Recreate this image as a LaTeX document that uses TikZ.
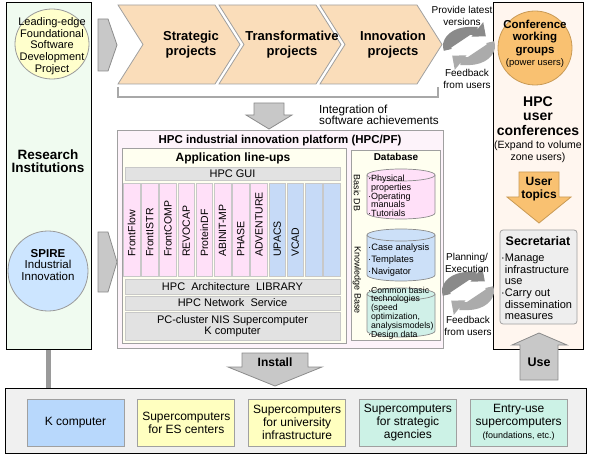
\documentclass[tikz,border=0pt]{standalone}
\usepackage{fontspec}
\setmainfont{Liberation Sans}
\usetikzlibrary{arrows.meta,positioning}

\definecolor{leftgreen}{HTML}{F0FBF0}
\definecolor{leadyellow}{HTML}{FFFFCC}
\definecolor{circline}{HTML}{9A9A9A}
\definecolor{spireblue}{HTML}{CCE5FF}
\definecolor{arrowgrey}{HTML}{C8C8C8}
\definecolor{arrowline}{HTML}{8C8C8C}
\definecolor{chevfill}{HTML}{FADDBA}
\definecolor{chevline}{HTML}{A0A0A0}
\definecolor{bracketgrey}{HTML}{A8A8A8}
\definecolor{platpink}{HTML}{FDF3FA}
\definecolor{platline}{HTML}{A0A0A0}
\definecolor{appyellow}{HTML}{FFFFF0}
\definecolor{bargrey}{HTML}{E2E2E2}
\definecolor{barline}{HTML}{C8C8C8}
\definecolor{apppink}{HTML}{FFE0F8}
\definecolor{appblue}{HTML}{C6DAF7}
\definecolor{cylpink}{HTML}{FFE0F8}
\definecolor{cylblue}{HTML}{CCE0F8}
\definecolor{cylmint}{HTML}{D0F0E8}
\definecolor{confpeach}{HTML}{FFF6EF}
\definecolor{conforange}{HTML}{F9C171}
\definecolor{confline}{HTML}{C99A55}
\definecolor{secgrey}{HTML}{EEEEEE}
\definecolor{botgrey}{HTML}{F0F0F0}
\definecolor{kblue}{HTML}{B8D8FC}
\definecolor{esyellow}{HTML}{FFFFC0}
\definecolor{stratmint}{HTML}{CCF2E6}
\definecolor{cycdark}{HTML}{8A8A8A}
\definecolor{cyclight}{HTML}{ABABAB}
\definecolor{polegrey}{HTML}{9A9A9A}

\newcommand{\dbul}{\textperiodcentered}

\begin{document}
\begin{tikzpicture}[x=1pt,y=-1pt,
    box/.style={draw=black, line width=1pt},
    greyarrow/.style={fill=arrowgrey, draw=arrowline, line width=0.8pt},
    chevron/.style={fill=chevfill, draw=chevline, line width=0.8pt},
    chevtext/.style={align=center, font=\bfseries\fontsize{13}{15}\selectfont},
    bar/.style={draw=barline, fill=bargrey, line width=0.6pt, minimum width=215pt, inner sep=0pt, align=center, font=\fontsize{11}{11.5}\selectfont},
    colbox/.style={draw=barline, line width=0.6pt},
    collabel/.style={rotate=90, anchor=west, inner sep=0pt, font=\fontsize{10.5}{11}\selectfont},
    cylline/.style={draw=arrowline, line width=0.7pt},
    sysbox/.style={draw=chevline, line width=0.8pt, minimum width=97pt, minimum height=47pt, inner sep=1pt, align=center, font=\fontsize{12}{13}\selectfont},
    cycarc/.style={line width=8pt, -{Triangle[length=11pt,width=18pt]}},
    cyclabel/.style={align=center, font=\fontsize{10}{11.5}\selectfont},
    small/.style={align=center, font=\fontsize{10.5}{12.5}\selectfont}]
\useasboundingbox (0,0) rectangle (589,457);

    \coordinate (TC) at (469,46);
    \coordinate (BC) at (468,291);

    % Research institutions column
    \draw[box, fill=leftgreen] (6,3) rectangle (91,349);
    \draw[draw=circline, fill=leadyellow, line width=0.8pt] (52,44) ellipse (37 and 35);
    \node[align=center, font=\fontsize{11}{11.6}\selectfont] (leading) at (52,46) {Leading-edge\\Foundational\\Software\\Development\\Project};
    \node[align=center, font=\bfseries\fontsize{13.5}{13}\selectfont] (research) at (48,161) {Research\\Institutions};
    \node[circle, draw=circline, fill=spireblue, line width=0.8pt, minimum size=80pt, inner sep=0pt] (spire) at (48,271) {};
    \node[align=center, font=\fontsize{11.5}{11.8}\selectfont] at (48,265) {\textbf{SPIRE}\\Industrial\\Innovation};
    \draw[draw=polegrey, line width=5pt] (48.5,350) -- (48.5,388);

    % Arrows out of the column
    \draw[greyarrow] (98,19) -- (108,19) -- (117,45) -- (108,71) -- (98,71) -- cycle;
    \draw[greyarrow] (98,232) -- (108,232) -- (117,262) -- (108,292) -- (98,292) -- cycle;

    % Projects
    \foreach \L/\txt [count=\i] in {118/{Strategic\\projects}, 219/{Transformative\\projects}, 320/{Innovation\\projects}} {
        \draw[chevron] (\L,5) -- ++(97,0) -- ++(25,39.5) -- ++(-25,39.5) -- ++(-97,0) -- ++(25,-39.5) -- cycle;
        \node[chevtext] (proj\i) at (\L+73,44.5) {\txt};
    }
    \draw[draw=bracketgrey, line width=2.5pt] (118,87) -- (118,97) -- (438,97) -- (438,87);

    % Integration
    \draw[greyarrow] (254,103) -- (284,103) -- (284,115) -- (292,115) -- (269,129) -- (246,115) -- (254,115) -- cycle;
    \node[anchor=west, align=left, inner sep=0pt, font=\fontsize{11.7}{11.5}\selectfont] (integ) at (319,115) {Integration of\\software achievements};

    % Platform
    \draw[draw=platline, fill=platpink, line width=0.8pt] (117,130) rectangle (443,348);
    \node[font=\bfseries\fontsize{11.5}{12}\selectfont] (pftitle) at (280,141) {HPC industrial innovation platform (HPC/PF)};

    % Application line-ups
    \draw[draw=platline, fill=appyellow, line width=0.8pt] (122,148) rectangle (346,343);
    \node[font=\bfseries\fontsize{12}{12}\selectfont] (apptitle) at (233,158) {Application line-ups};
    \node[bar, minimum height=13pt] (gui) at (232.5,173.5) {HPC GUI};
    \foreach \name/\col [count=\i from 0] in {FrontFlow/apppink, FrontISTR/apppink, FrontCOMP/apppink, REVOCAP/apppink, ProteinDF/apppink, ABINIT-MP/apppink, PHASE/apppink, ADVENTURE/apppink, UPACS/appblue, VCAD/appblue, /appblue, /appblue} {
        \draw[colbox, fill=\col] (123.3+18.2*\i,183) rectangle ++(16.5,93);
        \node[collabel] (app\i) at (131.55+18.2*\i,257) {\name};
    }
    \node[bar, minimum height=15pt] (library) at (232.5,286.5) {HPC\ \ Architecture\ \ LIBRARY};
    \node[bar, minimum height=14pt] (network) at (232.5,303) {HPC Network\ \ Service};
    \node[bar, minimum height=28pt] (cluster) at (232.5,326) {PC-cluster NIS Supercomputer\\K computer};

    % Database
    \draw[draw=platline, fill=appyellow, line width=0.8pt] (351,150) rectangle (440,340);
    \node[font=\bfseries\fontsize{10}{10}\selectfont] (dbtitle) at (396,157) {Database};
    \node[rotate=-90, font=\fontsize{9}{9}\selectfont] (basiclab) at (357,193) {Basic DB};
    \node[rotate=-90, font=\fontsize{9}{9}\selectfont] (knowlab) at (357,280) {Knowledge Base};
    \foreach \ytop/\ybot/\col in {175/213/cylpink, 235/275/cylblue, 294/331/cylmint} {
        \draw[cylline, fill=\col] (367,\ytop) -- (367,\ybot) arc[start angle=180, end angle=0, x radius=34, y radius=6] -- (435,\ytop);
        \draw[cylline, fill=\col] (401,\ytop) ellipse [x radius=34, y radius=6];
    }
    \node[anchor=west, align=left, inner sep=0pt, font=\fontsize{9}{8.7}\selectfont] (basicdb) at (368,196) {\dbul Physical\\\hphantom{\dbul}properties\\\dbul Operating\\\hphantom{\dbul}manuals\\\dbul Tutorials};
    \node[anchor=west, align=left, inner sep=0pt, font=\fontsize{9.3}{12}\selectfont] (casedb) at (368,260) {\dbul Case analysis\\\dbul Templates\\\dbul Navigator};
    \node[anchor=west, align=left, inner sep=0pt, font=\fontsize{8.7}{8}\selectfont] (techdb) at (368,313) {\dbul Common basic\\\hphantom{\dbul}technologies\\\hphantom{\dbul}(speed\\\hphantom{\dbul}optimization,\\\hphantom{\dbul}analysismodels)\\\dbul Design data};

    % User conferences
    \draw[box, fill=confpeach] (493,3) rectangle (583,349);
    \node[circle, draw=confline, fill=conforange, line width=0.8pt, minimum size=74pt, inner sep=0pt] (confgrp) at (535,48) {};
    \node[align=center, font=\bfseries\fontsize{11.5}{12.5}\selectfont] at (535,44) {Conference\\working\\groups\\{\mdseries\fontsize{9.5}{12.5}\selectfont(power users)}};
    \node[align=center, font=\bfseries\fontsize{14}{14.5}\selectfont] (hpcuc) at (538,116) {HPC\\user\\conferences};
    \node[small] (expand) at (538,152) {(Expand to volume\\zone users)};
    \draw[fill=conforange, draw=confline, line width=0.8pt] (519,172) -- (559,172) -- (559,197) -- (571,197) -- (539,223) -- (507,197) -- (519,197) -- cycle;
    \node[align=center, font=\bfseries\fontsize{12}{13}\selectfont] (topics) at (539,189) {User\\topics};
    \draw[draw=chevline, fill=secgrey, line width=0.8pt, rounded corners=3pt] (500,230) rectangle (577,324);
    \node[font=\bfseries\fontsize{12.5}{13}\selectfont] (secret) at (538,241) {Secretariat};
    \node[anchor=west, align=left, inner sep=0pt, font=\fontsize{11}{11.6}\selectfont] (tasks) at (501,287) {\dbul Manage\\\hphantom{\dbul}infrastructure\\\hphantom{\dbul}use\\\dbul Carry out\\\hphantom{\dbul}dissemination\\\hphantom{\dbul}measures};

    % Cycles
    \foreach \c in {TC,BC} {
        \draw[cycarc, draw=cycdark, fill=cycdark] (\c) ++(-21.25,3.88) arc[start angle=-195, end angle=-40, x radius=22, y radius=15];
        \draw[cycarc, draw=cyclight, fill=cyclight] (\c) ++(21.25,-3.88) arc[start angle=-15, end angle=140, x radius=22, y radius=15];
    }
    \node[cyclabel] (provide) at (462,16) {Provide latest\\versions};
    \node[cyclabel] (feedtop) at (467,79) {Feedback\\from users};
    \node[cyclabel] (planning) at (467,263) {Planning/\\Execution};
    \node[cyclabel] (feedbot) at (468,326) {Feedback\\from users};

    % Install and use
    \draw[greyarrow] (242,353) -- (308,353) -- (308,367) -- (322,367) -- (275,386) -- (228,367) -- (242,367) -- cycle;
    \node[font=\bfseries\fontsize{12}{12}\selectfont] (install) at (275,362) {Install};
    \draw[greyarrow] (520,380) -- (520,345) -- (512,345) -- (539,333) -- (567,345) -- (558,345) -- (558,380) -- cycle;
    \node[font=\bfseries\fontsize{12.5}{12}\selectfont] (use) at (539,362) {Use};

    % Computers
    \draw[box, fill=botgrey] (5,388) rectangle (586,453);
    \node[sysbox, fill=kblue] (kcomp) at (75.5,422.5) {K computer};
    \node[sysbox, fill=esyellow, right=13pt of kcomp] (escent) {Supercomputers\\for ES centers};
    \node[sysbox, fill=esyellow, right=13pt of escent] (univ) {Supercomputers\\for university\\infrastructure};
    \node[sysbox, fill=stratmint, right=13pt of univ] (strat) {Supercomputers\\for strategic\\agencies};
    \node[sysbox, fill=stratmint, right=13pt of strat] (entry) {Entry-use\\supercomputers\\{\fontsize{9}{11}\selectfont(foundations, etc.)}};

\end{tikzpicture}
\end{document}
